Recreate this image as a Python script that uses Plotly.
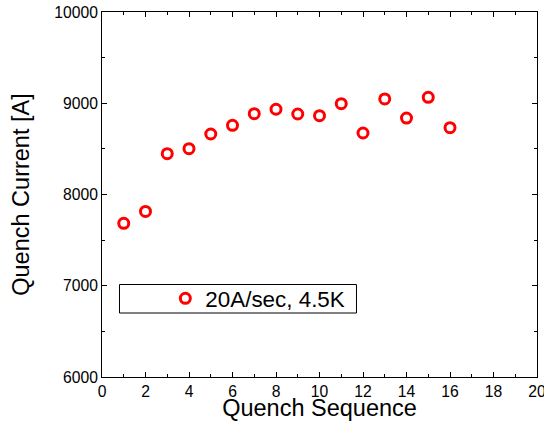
import plotly.graph_objects as go

sequence = list(range(1, 17))
quench_current = [7684, 7815, 8447, 8502, 8663, 8758, 8886, 8934,
                  8882, 8864, 8995, 8674, 9047, 8838, 9065, 8732]
series_name = "20A/sec, 4.5K"

FONT = "Liberation Sans, Arial, sans-serif"

fig = go.Figure()
fig.add_trace(go.Scatter(
    x=sequence, y=quench_current, mode="markers", name=series_name,
    marker=dict(symbol="circle-open", size=10, color="red",
                line=dict(width=3, color="red")),
    showlegend=True,
))

axis_common = dict(
    showline=True, linecolor="black", linewidth=1, mirror="allticks",
    ticks="inside", ticklen=5, tickcolor="black", tickwidth=1,
    showgrid=False, zeroline=False, automargin=False,
    ticklabeloverflow="allow", tickformat="d",
    tickfont=dict(family=FONT, size=15.7, color="black"),
)

fig.update_xaxes(range=[0, 20], dtick=2, tick0=0,
                 minor=dict(dtick=1, ticks="inside", ticklen=3, tickcolor="black"),
                 title=dict(text="Quench Sequence", font=dict(family=FONT, size=23.5, color="black"), standoff=2),
                 **axis_common)
fig.update_yaxes(range=[6000, 10000], dtick=1000, tick0=6000,
                 minor=dict(dtick=500, ticks="inside", ticklen=3, tickcolor="black"),
                 title=dict(text="Quench Current [A]", font=dict(family=FONT, size=23.5, color="black"), standoff=18),
                 **axis_common)

fig.add_shape(type="rect", xref="paper", yref="paper",
              x0=0.0402, x1=0.585, y0=0.1753, y1=0.2534,
              line=dict(color="black", width=1), fillcolor="rgba(0,0,0,0)")

fig.update_layout(
    width=544, height=421,
    margin=dict(l=102, r=7, t=12, b=44),
    paper_bgcolor="white", plot_bgcolor="white",
    font=dict(family=FONT, color="black"),
    showlegend=True,
    legend=dict(x=0.1456, y=0.2143, xanchor="left", yanchor="middle",
                bgcolor="rgba(0,0,0,0)", borderwidth=0,
                font=dict(family=FONT, size=22.4, color="black")),
)

fig.write_html("out.html", config={"displayModeBar": False},
               post_script="document.body.style.margin='0';")
